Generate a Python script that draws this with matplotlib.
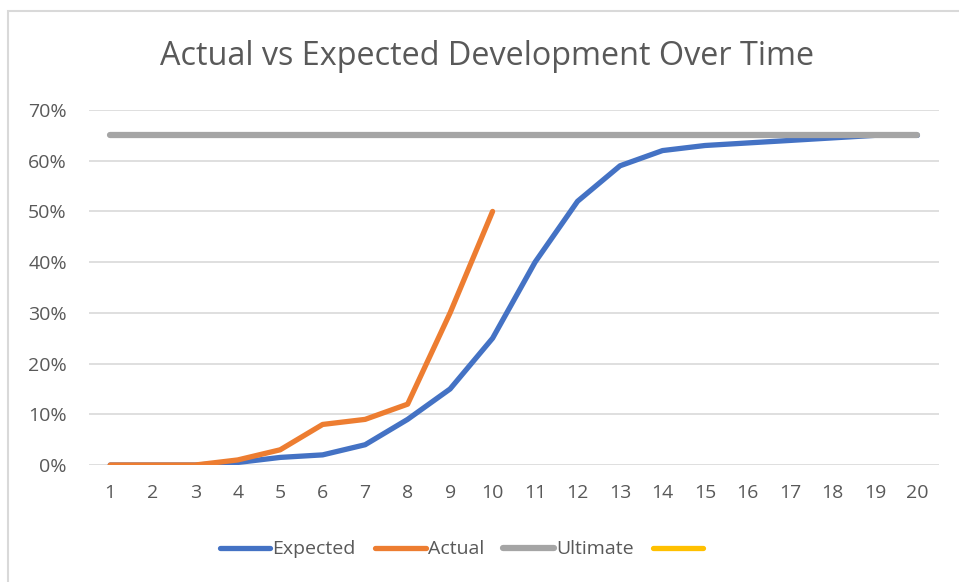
import matplotlib.pyplot as plt
from matplotlib.patches import Rectangle
from matplotlib.ticker import PercentFormatter

plt.rcParams['font.family'] = ['Open Sans', 'DejaVu Sans']

# Development periods and cumulative percentages
periods = list(range(1, 21))
expected = [0.0, 0.0, 0.0, 0.005, 0.015, 0.02, 0.04, 0.09, 0.15, 0.25,
            0.40, 0.52, 0.59, 0.62, 0.63, 0.635, 0.64, 0.645, 0.65, 0.65]
actual = [0.0, 0.0, 0.0, 0.01, 0.03, 0.08, 0.09, 0.12, 0.30, 0.50]
ultimate = [0.65] * 20

TEXT = '#595959'
GRID = '#D9D9D9'

fig = plt.figure(figsize=(9.59, 5.82), dpi=100)
ax = fig.add_axes([0.0928, 0.201, 0.886, 0.610])

# chart outline
fig.patches.append(Rectangle((8 / 959, -0.05), 1.2, 1 - 11 / 582 + 0.05,
                             transform=fig.transFigure, fill=False,
                             edgecolor=GRID, linewidth=1.5))

ax.plot(periods, expected, color='#4472C4', lw=3.8, solid_capstyle='round',
        solid_joinstyle='round', label='Expected', zorder=3)
ax.plot(periods[:len(actual)], actual, color='#ED7D31', lw=3.8,
        solid_capstyle='round', solid_joinstyle='round', label='Actual', zorder=3)
ax.plot(periods, ultimate, color='#A5A5A5', lw=4.5, solid_capstyle='round',
        label='Ultimate', zorder=4)
ax.plot([], [], color='#FFC000', lw=3.8, solid_capstyle='round', label=' ')

ax.set_xlim(0.5, 20.5)
ax.set_ylim(0, 0.7)
ax.set_xticks(periods)
ax.set_yticks([i / 10 for i in range(8)])
ax.yaxis.set_major_formatter(PercentFormatter(1.0, decimals=0))
ax.tick_params(length=0, labelsize=14, labelcolor=TEXT)
ax.tick_params(axis='x', pad=14)
ax.tick_params(axis='y', pad=16)
ax.grid(axis='y', color=GRID, lw=1.2)
ax.set_axisbelow(True)
for s in ax.spines.values():
    s.set_visible(False)

fig.text(0.508, 0.903, 'Actual vs Expected Development Over Time', ha='center',
         va='center', fontsize=23.3, color=TEXT)

leg = fig.legend(loc='center', bbox_to_anchor=(0.485, 0.056), ncol=4, frameon=False,
                 fontsize=14, handlelength=2.6, handletextpad=0.1,
                 columnspacing=1.0)
for t in leg.get_texts():
    t.set_color(TEXT)

fig.savefig('out.png', dpi=100)
